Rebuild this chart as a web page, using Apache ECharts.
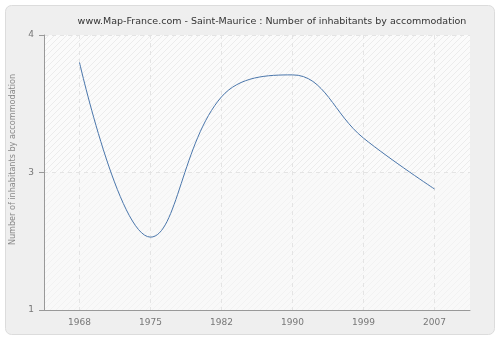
<!DOCTYPE html>
<html><head><meta charset="utf-8">
<script src="https://cdn.jsdelivr.net/npm/echarts@6/dist/echarts.min.js"></script>
<style>html,body{margin:0;padding:0;background:#fff}#c{width:500px;height:340px}</style>
</head><body><div id="c"></div>
<script>
var categories = ['1968','1975','1982','1990','1999','2007'];
var values = [3.80, 2.53, 3.55, 3.71, 3.25, 2.88];
var yTickValues = [2, 3, 4];
var yTickLabels = ['1', '3', '4'];

function hatch(bg, line) {
  var c = document.createElement('canvas');
  c.width = 6; c.height = 6;
  var g = c.getContext('2d');
  g.fillStyle = bg; g.fillRect(0, 0, 6, 6);
  g.strokeStyle = line; g.lineWidth = 1;
  g.beginPath();
  g.moveTo(0, 6); g.lineTo(6, 0);
  g.moveTo(-1, 1); g.lineTo(1, -1);
  g.moveTo(5, 7); g.lineTo(7, 5);
  g.stroke();
  return c;
}

var chart = echarts.init(document.getElementById('c'), null, {renderer: 'canvas'});
chart.setOption({
  animation: false,
  backgroundColor: '#fff',
  graphic: [{
    type: 'rect', z: -10, silent: true,
    shape: {x: 5.5, y: 5.5, width: 489, height: 329, r: 6},
    style: {fill: '#efefef', stroke: '#dcdcdc', lineWidth: 1}
  }],
  title: {
    text: 'www.Map-France.com - Saint-Maurice : Number of inhabitants by accommodation',
    left: 267, top: 12, textAlign: 'center',
    textStyle: {fontFamily: 'DejaVu Sans', fontSize: 9.5, fontWeight: 'normal', color: '#333'}
  },
  grid: {left: 41, right: 30, top: 35, bottom: 30, show: true, backgroundColor: '#fbfbfb', borderWidth: 0},
  xAxis: {
    type: 'category', data: categories, boundaryGap: true,
    axisLine: {lineStyle: {color: '#999'}},
    axisTick: {alignWithLabel: true, length: 5, lineStyle: {color: '#999'}},
    axisLabel: {color: '#777', fontFamily: 'DejaVu Sans', fontSize: 9, margin: 8},
    splitLine: {show: true, alignWithLabel: true, lineStyle: {color: '#e4e4e4', type: [4, 4]}}
  },
  yAxis: {
    type: 'value', min: 2, max: 4, interval: 1,
    name: 'Number of inhabitants by accommodation',
    nameLocation: 'middle', nameGap: 27,
    nameTextStyle: {color: '#888', fontFamily: 'DejaVu Sans Condensed, DejaVu Sans', fontSize: 9, padding: [0, 0, 0, 26]},
    axisLine: {show: true, lineStyle: {color: '#999'}},
    axisTick: {show: true, length: 5, lineStyle: {color: '#999'}},
    axisLabel: {color: '#777', fontFamily: 'DejaVu Sans', fontSize: 9, margin: 10,
      formatter: function (v) { var i = yTickValues.indexOf(v); return i >= 0 ? yTickLabels[i] : ''; }},
    splitLine: {show: true, lineStyle: {color: '#e4e4e4', type: [4, 4]}},
    splitArea: {show: true, areaStyle: {color: [
      {image: hatch('#f9f9f9', '#f2f2f2'), repeat: 'repeat'},
      {image: hatch('#fbfbfb', '#ececec'), repeat: 'repeat'}
    ]}}
  },
  series: [{
    type: 'line', data: values, smooth: 0.4, symbol: 'none',
    lineStyle: {color: '#4a76ab', width: 1}
  }]
});
</script></body></html>
